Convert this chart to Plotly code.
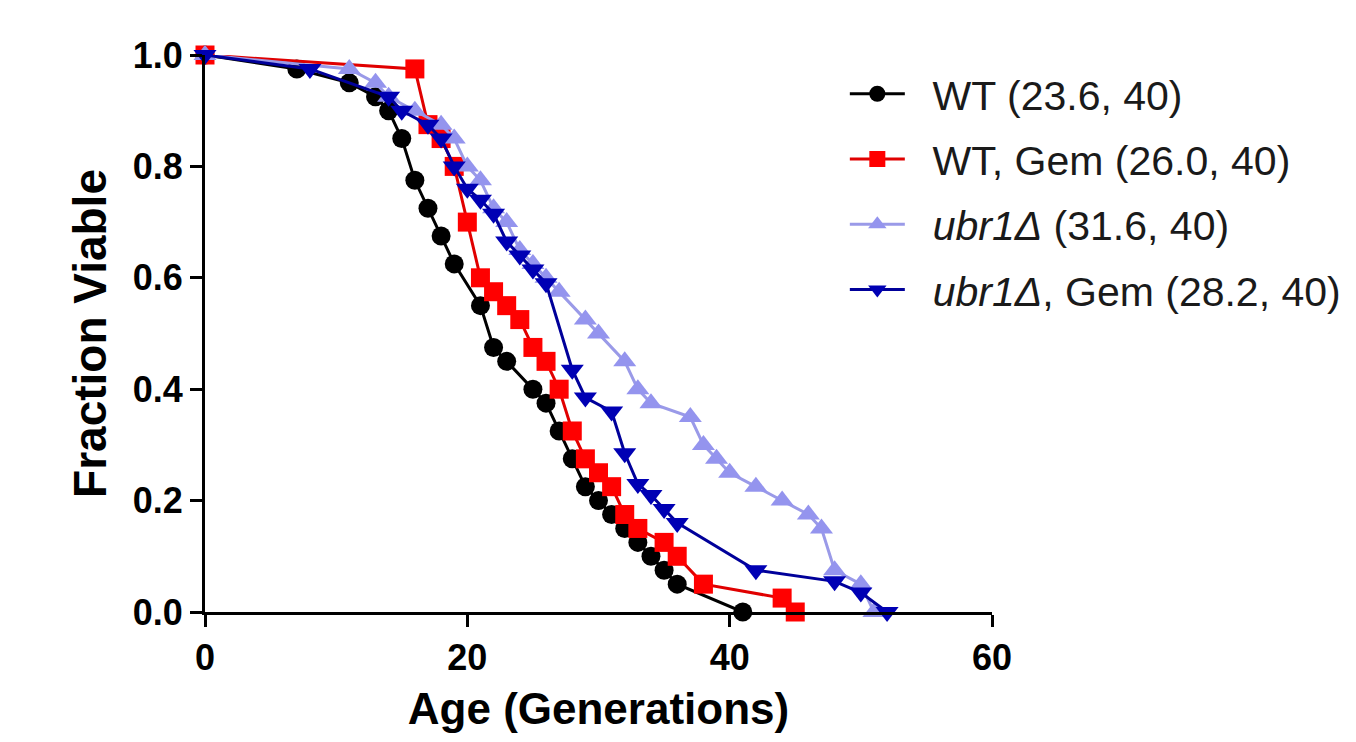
import plotly.graph_objects as go

# ---- data ----
wt_age = [0, 7, 11, 13, 14, 15, 16, 17, 18, 19, 21, 22, 23, 25, 26, 27, 28, 29, 30, 31, 32, 33, 34, 35, 36, 41]
wt_frac = [1.0, 0.975, 0.95, 0.925, 0.9, 0.85, 0.775, 0.725, 0.675, 0.625, 0.55, 0.475, 0.45, 0.4, 0.375,
           0.325, 0.275, 0.225, 0.2, 0.175, 0.15, 0.125, 0.1, 0.075, 0.05, 0.0]

wtgem_age = [0, 16, 17, 18, 19, 20, 21, 22, 23, 24, 25, 26, 27, 28, 29, 30, 31, 32, 33, 35, 36, 38, 44, 45]
wtgem_frac = [1.0, 0.975, 0.875, 0.85, 0.8, 0.7, 0.6, 0.575, 0.55, 0.525, 0.475, 0.45, 0.4, 0.325, 0.275,
              0.25, 0.225, 0.175, 0.15, 0.125, 0.1, 0.05, 0.025, 0.0]

ubr_age = [0, 11, 13, 14, 16, 18, 19, 20, 21, 22, 23, 24, 25, 26, 27, 29, 30, 32, 33, 34, 37, 38, 39, 40,
           42, 44, 46, 47, 48, 50, 51]
ubr_frac = [1.0, 0.975, 0.95, 0.925, 0.9, 0.875, 0.85, 0.8, 0.775, 0.725, 0.7, 0.65, 0.625, 0.6, 0.575,
            0.525, 0.5, 0.45, 0.4, 0.375, 0.35, 0.3, 0.275, 0.25, 0.225, 0.2, 0.175, 0.15, 0.075, 0.05, 0.0]

ubrgem_age = [0, 8, 14, 15, 17, 18, 19, 20, 21, 22, 23, 24, 25, 26, 28, 29, 31, 32, 33, 34, 35, 36, 42, 48, 50, 52]
ubrgem_frac = [1.0, 0.975, 0.925, 0.9, 0.875, 0.85, 0.8, 0.76, 0.74, 0.715, 0.665, 0.64, 0.615, 0.59, 0.435,
               0.385, 0.36, 0.285, 0.23, 0.21, 0.185, 0.16, 0.075, 0.055, 0.035, 0.0]

series_names = ["WT (23.6, 40)", "WT, Gem (26.0, 40)",
                "<i>ubr1Δ</i> (31.6, 40)", "<i>ubr1Δ</i>, Gem (28.2, 40)"]

x_ticks = [0, 20, 40, 60]
y_ticks = [0.0, 0.2, 0.4, 0.6, 0.8, 1.0]

FONT = "Liberation Sans, Arial, sans-serif"
PAD = "\u00a0\u00a0"  # visual gap between legend symbol and text

fig = go.Figure()

styles = [
    (wt_age, wt_frac, "#000000", "#000000", "circle", 19),
    (wtgem_age, wtgem_frac, "#e00000", "#ff0000", "square", 19),
    (ubr_age, ubr_frac, "#9a9ae8", "#9494ee", "triangle-up", 20),
    (ubrgem_age, ubrgem_frac, "#00009a", "#0000b4", "triangle-down", 20),
]

for i, ((xs, ys, lc, mc, sym, sz), name) in enumerate(zip(styles, series_names)):
    fig.add_trace(go.Scatter(
        x=xs, y=ys, name=PAD + name, mode="lines+markers",
        legendgroup=f"g{i}",
        line=dict(color=lc, width=3),
        marker=dict(color=mc, symbol=sym, size=sz, line=dict(width=0)),
        cliponaxis=False,
    ))

fig.update_layout(
    width=1356, height=742,
    margin=dict(l=205, r=364, t=55, b=130, autoexpand=False),
    paper_bgcolor="white", plot_bgcolor="white",
    font=dict(family=FONT, color="#000000"),
    showlegend=True,
    legend=dict(
        x=0.813, y=0.99, xanchor="left", yanchor="top",
        font=dict(family=FONT, size=41, color="#1a1a1a"),
        bgcolor="rgba(0,0,0,0)", itemwidth=55,
        tracegroupgap=9,
    ),
)

fig.update_xaxes(
    range=[0, 60], tickvals=x_ticks, ticktext=[str(v) for v in x_ticks],
    showline=True, linecolor="black", linewidth=3,
    ticks="outside", ticklen=12, tickwidth=3, tickcolor="black",
    showgrid=False, zeroline=False,
    tickfont=dict(family=FONT, size=36, color="black", weight="bold"),
    title=dict(text="<b>Age (Generations)</b>", font=dict(family=FONT, size=44, color="black"), standoff=16),
)
fig.update_yaxes(
    range=[0, 1], tickvals=y_ticks, ticktext=[f"{v:.1f}" for v in y_ticks],
    showline=True, linecolor="black", linewidth=3,
    ticks="outside", ticklen=12, tickwidth=3, tickcolor="black",
    showgrid=False, zeroline=False,
    tickfont=dict(family=FONT, size=36, color="black", weight="bold"),
    title=dict(text="<b>Fraction Viable</b>", font=dict(family=FONT, size=46, color="black"), standoff=12),
)

fig.write_html("out.html", config={"displayModeBar": False},
               post_script="document.body.style.margin='0';")
